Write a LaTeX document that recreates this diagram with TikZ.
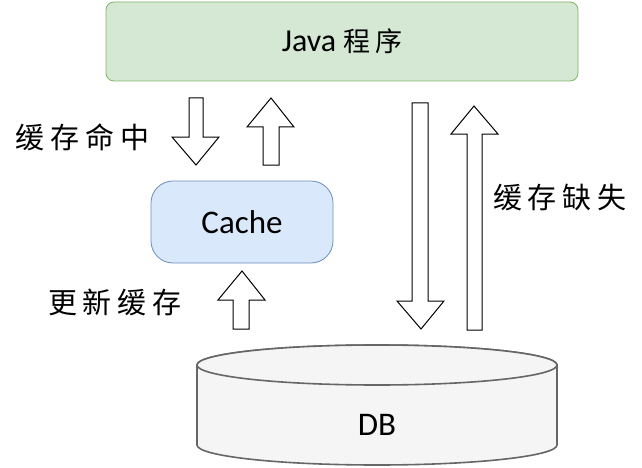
\documentclass[tikz,border=0pt]{standalone}
\usepackage{fontspec}
\setmainfont{Carlito}
\newfontfamily\cjk{Noto Sans CJK SC}
\newcommand\gapx{\hspace{6pt}}
\begin{document}
\begin{tikzpicture}[x=1pt,y=-1pt,
  cachebox/.style={draw=cblue, fill=cfill, rounded corners=22pt, line width=0.8pt},
  barrow/.style={draw=black, fill=white, line width=1pt, line join=miter},
  lbl/.style={font=\cjk\fontsize{29}{32}\selectfont, inner sep=0pt},
]
\definecolor{jgreen}{HTML}{D5E8D4}
\definecolor{jstroke}{HTML}{82B366}
\definecolor{cblue}{HTML}{6C8EBF}
\definecolor{cfill}{HTML}{DAE8FC}
\definecolor{dbfill}{HTML}{F5F5F5}
\definecolor{dbstroke}{HTML}{666666}
\useasboundingbox (0,0) rectangle (642,468);
% Java box
\node[draw=jstroke, fill=jgreen, rounded corners=8pt, line width=0.8pt,
      minimum width=472pt, minimum height=79pt, inner sep=0pt] (java) at (342,41.5)
      {\fontsize{32}{36}\selectfont Java\hspace{7pt}{\cjk\fontsize{27}{30}\selectfont 程\hspace{5pt}序}};
% Cache box
\node[cachebox, minimum width=182pt, minimum height=82pt, inner sep=0pt] (cache) at (242,222)
      {\fontsize{33}{36}\selectfont Cache};
% DB cylinder
\coordinate (dbtop) at (377,365);
\coordinate (dbbot) at (377,445);
\path[draw=dbstroke, fill=dbfill, line width=1.6pt]
  (197,365) -- (197,445) arc[start angle=180, end angle=360, x radius=180pt, y radius=20pt]
  -- (557,365) arc[start angle=0, end angle=180, x radius=180pt, y radius=20pt] -- cycle;
\draw[draw=dbstroke, fill=dbfill, line width=1.6pt] (dbtop) ellipse[x radius=180pt, y radius=20pt];
\node[inner sep=0pt] (db) at (377,425) {\fontsize{33}{36}\selectfont DB};
% block arrows
% hit down arrow
\draw[barrow] (189,98) -- (203,98) -- (203,137) -- (219,137) -- (196,165) -- (172,137) -- (189,137) -- cycle;
% hit up arrow
\draw[barrow] (263,165) -- (279,165) -- (279,127) -- (294,127) -- (271,98) -- (247,127) -- (263,127) -- cycle;
% update up arrow
\draw[barrow] (233,329) -- (249,329) -- (249,300) -- (265,300) -- (242,271) -- (218,300) -- (233,300) -- cycle;
% miss down arrow
\draw[barrow] (412,103) -- (428,103) -- (428,301) -- (444,301) -- (421,329) -- (397,301) -- (412,301) -- cycle;
% miss up arrow
\draw[barrow] (467,330) -- (482,330) -- (482,134) -- (498,134) -- (474,106) -- (451,134) -- (467,134) -- cycle;
% labels
\node[lbl] (hit) at (83,137) {缓\gapx 存\gapx 命\gapx 中};
\node[lbl] (upd) at (115,302) {更\gapx 新\gapx 缓\gapx 存};
\node[lbl] (miss) at (560,197) {缓\gapx 存\gapx 缺\gapx 失};
\end{tikzpicture}
\end{document}
